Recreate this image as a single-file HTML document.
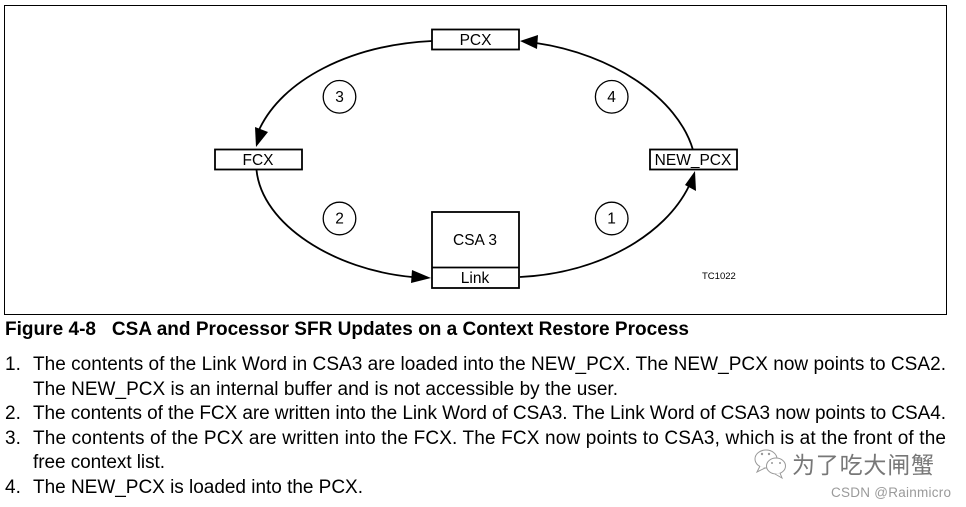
<!DOCTYPE html>
<html><head><meta charset="utf-8"><style>
html,body{margin:0;padding:0;background:#fff;width:966px;height:507px;overflow:hidden}
svg{display:block}
text{font-family:"Liberation Sans",sans-serif;fill:#000}
.t{font-size:19px}
.d{font-size:15.5px;text-anchor:middle}
.w{font-family:"Liberation Sans","Noto Sans CJK SC",sans-serif}
</style></head><body>
<svg width="966" height="507" viewBox="0 0 966 507" xmlns="http://www.w3.org/2000/svg">
<rect x="4.5" y="5.500" width="942" height="309" fill="#fff" stroke="#000" stroke-width="1"/>
<g fill="none" stroke="#000" stroke-width="1.8">
<path d="M432 41 C350 45 282 80 259 130"/>
<path d="M256.500 170 C262 225 335 270 412 277"/>
<path d="M520 277 C600 273 665 235 689 186"/>
<path d="M693 150 C678 98 612 54 536 43"/>
</g>
<g fill="#000">
<polygon points="256,147 255,127 268,132"/>
<polygon points="431,278 412,270 411,283"/>
<polygon points="695,171 685,185 696,191"/>
<polygon points="520,41 538,35 537,49"/>
</g>
<g fill="#fff" stroke="#000" stroke-width="1.8">
<rect x="432" y="29.500" width="87" height="20"/>
<rect x="215" y="149.500" width="87" height="20"/>
<rect x="650" y="149.500" width="87" height="20"/>
<rect x="432" y="212" width="87" height="76"/>
<line x1="432" y1="267.500" x2="519" y2="267.500"/>
</g>
<g fill="#fff" stroke="#000" stroke-width="1.300">
<circle cx="339.500" cy="96.800" r="16.300"/>
<circle cx="611.700" cy="96.800" r="16.300"/>
<circle cx="339.500" cy="218.500" r="16.300"/>
<circle cx="611.700" cy="218.500" r="16.300"/>
</g>
<text class="d" x="475.500" y="45">PCX</text>
<text class="d" x="258" y="165">FCX</text>
<text class="d" x="693" y="165">NEW_PCX</text>
<text class="d" x="475" y="245">CSA 3</text>
<text class="d" x="475" y="283">Link</text>
<text class="d" x="339.500" y="102">3</text>
<text class="d" x="611.500" y="102">4</text>
<text class="d" x="339.500" y="223.500">2</text>
<text class="d" x="611.500" y="223.500">1</text>
<text x="702" y="279" font-size="9.500">TC1022</text>
<text x="5" y="335" font-size="19" font-weight="bold" textLength="684" lengthAdjust="spacing" xml:space="preserve">Figure 4-8   CSA and Processor SFR Updates on a Context Restore Process</text>
<text class="t" x="5" y="370">1.</text>
<text class="t" x="33" y="370" textLength="913" lengthAdjust="spacing">The contents of the Link Word in CSA3 are loaded into the NEW_PCX. The NEW_PCX now points to CSA2.</text>
<text class="t" x="33" y="395" textLength="585" lengthAdjust="spacing">The NEW_PCX is an internal buffer and is not accessible by the user.</text>
<text class="t" x="5" y="419">2.</text>
<text class="t" x="33" y="419" textLength="913" lengthAdjust="spacing">The contents of the FCX are written into the Link Word of CSA3. The Link Word of CSA3 now points to CSA4.</text>
<text class="t" x="5" y="444">3.</text>
<text class="t" x="33" y="444" textLength="913" lengthAdjust="spacing">The contents of the PCX are written into the FCX. The FCX now points to CSA3, which is at the front of the</text>
<text class="t" x="33" y="468" textLength="132" lengthAdjust="spacing">free context list.</text>
<text class="t" x="5" y="493">4.</text>
<text class="t" x="33" y="493" textLength="330" lengthAdjust="spacing">The NEW_PCX is loaded into the PCX.</text>
<g fill="#fff" stroke="#999" stroke-width="1">
<ellipse cx="766" cy="459" rx="11" ry="9"/>
<path d="M760 466 L757 472 L765 468"/>
<ellipse cx="776" cy="466" rx="9.500" ry="8"/>
<path d="M780 473 L782 478 L775 474"/>
</g>
<g fill="#999"><circle cx="762" cy="454" r="1.200"/><circle cx="769" cy="454" r="1.200"/><circle cx="772" cy="463" r="1"/><circle cx="780" cy="463" r="1"/></g>
<text class="w" x="792" y="473" font-size="23" style="fill:#777" textLength="142" lengthAdjust="spacing">为了吃大闸蟹</text>
<text x="831" y="497" font-size="13.500" style="fill:#9a9a9a" textLength="120" lengthAdjust="spacing">CSDN @Rainmicro</text>
</svg>
</body></html>
